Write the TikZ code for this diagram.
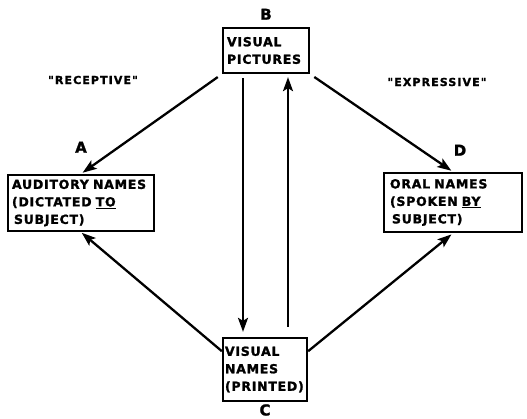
\documentclass[tikz,border=0pt]{standalone}
\usepackage{fontspec}
\newfontfamily\boxfont[LetterSpace=6,FakeBold=1.5]{DejaVu Sans}
\newfontfamily\tagfont[LetterSpace=10,FakeBold=1.5]{DejaVu Sans}
\newfontfamily\letterfont[FakeBold=1.5]{DejaVu Sans}
\usetikzlibrary{positioning,arrows.meta,calc}

\begin{document}
\begin{tikzpicture}[x=1pt, y=-1pt, line width=2.3pt,
  >={Stealth[length=14pt,width=10pt,inset=3pt]},
  namebox/.style={draw, align=left, inner xsep=4pt, inner ysep=0pt,
    font=\boxfont\bfseries\fontsize{12.5}{17.5}\selectfont},
  corner/.style={font=\letterfont\bfseries\fontsize{15}{17}\selectfont, inner sep=0pt},
  mode/.style={font=\tagfont\bfseries\fontsize{11}{12}\selectfont, inner sep=0pt}]
  \useasboundingbox (0,0) rectangle (527,418);
  \node[namebox, text width=138pt, minimum height=56pt] (a) at (81,203)
    {AUDITORY NAMES\\(DICTATED \underline{TO}\\\hspace{2pt}SUBJECT)};
  \node[namebox, text width=78pt, minimum height=45pt] (b) at (266,50.5)
    {VISUAL\\PICTURES};
  \node[namebox, text width=80pt, inner xsep=2pt, minimum height=63pt] (c) at (265,369.5)
    {VISUAL\\NAMES\\(PRINTED)};
  \node[namebox, text width=126pt, inner xsep=6pt, minimum height=59pt] (d) at (453,202.5)
    {ORAL NAMES\\(SPOKEN \underline{BY}\\\hspace{2pt}SUBJECT)};
  % corner letters
  \node[corner, above=20pt of a] (la) {A};
  \node[corner, above=6pt of b] (lb) {B};
  \node[corner, below=1pt of c] (lc) {C};
  \node[corner, above=15pt of d, xshift=7pt] (ld) {D};
  \node[mode] (rec) at (93,80) {"RECEPTIVE"};
  \node[mode] (exp) at (437,82) {"EXPRESSIVE"};
  % connectors
  \draw[->, shorten <=5pt, shorten >=2pt] (b.south west) -- (a.north);
  \draw[->, shorten <=5pt, shorten >=2pt] (b.south east) -- (d.north);
  \draw[->, shorten >=1pt] (c.157) -- (a.south);
  \draw[->, shorten >=2pt] (c.23) -- (d.south);
  \draw[->, shorten <=4pt, shorten >=5pt]
    ([xshift=-23pt]b.south) -- ([xshift=-23pt]b.south |- c.north);
  \draw[->, shorten <=10pt, shorten >=3pt]
    ([xshift=22pt]b.south |- c.north) -- ([xshift=22pt]b.south);
\end{tikzpicture}
\end{document}
